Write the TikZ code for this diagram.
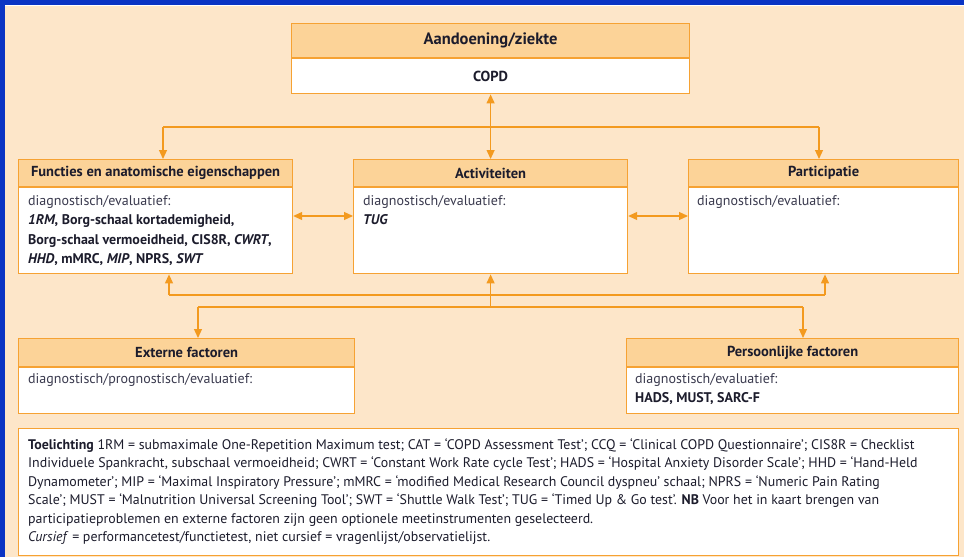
\documentclass[tikz,border=0pt]{standalone}
\usepackage{fontspec}
\setmainfont{PT Sans}
\usetikzlibrary{arrows.meta}
\definecolor{bluebg}{HTML}{0A34C4}
\definecolor{panel}{HTML}{FDE6C9}
\definecolor{hdrfill}{HTML}{FCD398}
\definecolor{edge}{HTML}{F6A233}
\definecolor{linkc}{HTML}{F39A1F}
\definecolor{ink}{HTML}{1C1C2C}
\definecolor{soft}{HTML}{3A3A4E}
\begin{document}
\begin{tikzpicture}[x=1pt,y=-1pt,
  hdr/.style={draw=edge, fill=hdrfill, line width=1.2pt, anchor=north west, inner sep=0pt,
    font=\bfseries\fontsize{14.5}{16}\selectfont, text=ink},
  bodybox/.style={draw=edge, fill=white, line width=1.2pt, anchor=north west, inner sep=0pt},
  bodytext/.style={anchor=north west, inner sep=0pt, align=left,
    font=\fontsize{14}{19.2}\selectfont, text=ink},
  link/.style={draw=linkc, line width=1.2pt},
  tip/.style={-{Triangle[length=9pt,width=8pt]}},
  tips/.style={{Triangle[length=9pt,width=8pt]}-{Triangle[length=9pt,width=8pt]}},
]
\useasboundingbox (0,0) rectangle (964,557);
% frame and panel
\fill[bluebg] (0,0) rectangle (964,557);
\fill[white] (5,5) rectangle (964,557);
\fill[panel] (5,6) rectangle (964,557);

% condition
\node[hdr, minimum width=398pt, minimum height=34pt, font=\bfseries\fontsize{16.5}{18}\selectfont]
  (cond) at (291,23) {Aandoening/ziekte};
\node[bodybox, minimum width=398pt, minimum height=35pt, font=\bfseries\fontsize{14.5}{16}\selectfont, text=ink]
  (copd) at (cond.south west) {COPD};

% functions
\node[hdr, minimum width=274pt, minimum height=27pt] (fh) at (18,159) {Functies en anatomische eigenschappen};
\node[bodybox, minimum width=274pt, minimum height=86pt] (fb) at (fh.south west) {};
\node[bodytext] (ft) at (28,195.5) {{\color{soft}diagnostisch/evaluatief:}\\
  \textbf{\textit{1RM}, Borg-schaal kortademigheid,}\\
  \textbf{Borg-schaal vermoeidheid, CIS8R, \textit{CWRT},}\\
  \textbf{\textit{HHD}, mMRC, \textit{MIP}, NPRS, \textit{SWT}}};

% activities
\node[hdr, minimum width=274pt, minimum height=27pt] (ah) at (353,159) {Activiteiten};
\node[bodybox, minimum width=274pt, minimum height=86pt] (ab) at (ah.south west) {};
\node[bodytext] (at) at (363,195.5) {{\color{soft}diagnostisch/evaluatief:}\\
  \textbf{\textit{TUG}}};

% participation
\node[hdr, minimum width=270pt, minimum height=27pt] (ph) at (688,159) {Participatie};
\node[bodybox, minimum width=270pt, minimum height=86pt] (pb) at (ph.south west) {};
\node[bodytext] (pt) at (697,195.5) {{\color{soft}diagnostisch/evaluatief:}};

% external factors
\node[hdr, minimum width=336pt, minimum height=28pt] (eh) at (18,338) {Externe factoren};
\node[bodybox, minimum width=336pt, minimum height=46pt] (eb) at (eh.south west) {};
\node[bodytext] (et) at (28,373.5) {{\color{soft}diagnostisch/prognostisch/evaluatief:}};

% personal factors
\node[hdr, minimum width=332pt, minimum height=28pt] (qh) at (626,338) {Persoonlijke factoren};
\node[bodybox, minimum width=332pt, minimum height=46pt] (qb) at (qh.south west) {};
\node[bodytext] (qt) at (635,373.5) {{\color{soft}diagnostisch/evaluatief:}\\
  \textbf{HADS, MUST, SARC-F}};

% legend
\node[bodybox, minimum width=940pt, minimum height=127pt] (leg) at (18,428) {};
\node[bodytext, font=\fontsize{13.9}{18.4}\selectfont] (legt) at (28,438.5) {%
  \textbf{Toelichting} 1RM = submaximale One-Repetition Maximum test; CAT = ‘COPD Assessment Test’; CCQ = ‘Clinical COPD Questionnaire’; CIS8R = Checklist\\
  Individuele Spankracht, subschaal vermoeidheid; CWRT = ‘Constant Work Rate cycle Test’; HADS = ‘Hospital Anxiety Disorder Scale’; HHD = ‘Hand-Held\\
  Dynamometer’; MIP = ‘Maximal Inspiratory Pressure’; mMRC = ‘modified Medical Research Council dyspneu’ schaal; NPRS = ‘Numeric Pain Rating\\
  Scale’; MUST = ‘Malnutrition Universal Screening Tool’; SWT = ‘Shuttle Walk Test’; TUG = ‘Timed Up \& Go test’. \textbf{NB} Voor het in kaart brengen van\\
  participatieproblemen en externe factoren zijn geen optionele meetinstrumenten geselecteerd.\\
  \textit{Cursief} = performancetest/functietest, niet cursief = vragenlijst/observatielijst.};

% connectors: condition to the three components
\draw[link,tips] (copd.south) -- (ah.north);
\coordinate (tbL) at (163,127);
\coordinate (tbR) at (819,127);
\draw[link] (tbL) -- (tbR);
\draw[link,tip] (tbL) -- (tbL |- fh.north);
\draw[link,tip] (tbR) -- (tbR |- ph.north);

% connectors between components
\coordinate (hrow) at (0,216);
\draw[link,tips] (fb.east |- hrow) -- (ab.west |- hrow);
\draw[link,tips] (ab.east |- hrow) -- (pb.west |- hrow);

% connectors from the context factors
\coordinate (b1L) at (169,295);
\coordinate (b1R) at (825,295);
\coordinate (b1M) at (ab.south |- b1L);
\coordinate (b2L) at (198,307);
\coordinate (b2R) at (803,307);
\draw[link] (b1L) -- (b1R);
\draw[link,tip] (b1L) -- (b1L |- fb.south);
\draw[link,tip] (b1M) -- (ab.south);
\draw[link,tip] (b1R) -- (b1R |- pb.south);
\draw[link] (b1M) -- (b1M |- b2L);
\draw[link] (b2L) -- (b2R);
\draw[link,tip] (b2L) -- (b2L |- eh.north);
\draw[link,tip] (b2R) -- (b2R |- qh.north);
\end{tikzpicture}
\end{document}
